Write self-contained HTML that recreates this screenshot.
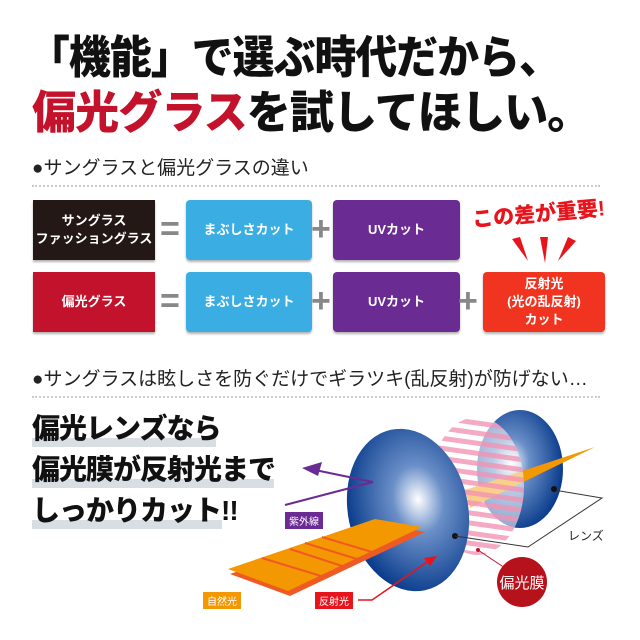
<!DOCTYPE html>
<html><head><meta charset="utf-8"><style>
body{margin:0;width:640px;height:640px;background:#fff;overflow:hidden;position:relative;font-family:"Liberation Sans","Noto Sans CJK JP",sans-serif}
.a{position:absolute;white-space:nowrap}
.t{font-weight:900;font-size:45px;letter-spacing:-1px;color:#111;line-height:1;transform-origin:0 0}
.h{font-size:19px;color:#222}
.dot{position:absolute;left:32px;width:568px;border-top:2px dotted #ccc}
.b{position:absolute;height:60px;border-radius:4px;color:#fff;font-size:13px;font-weight:bold;display:flex;align-items:center;justify-content:center;text-align:center;line-height:1.4;box-shadow:0 2px 2px rgba(0,0,0,.3)}
.op{position:absolute;font-size:34px;color:#888;font-weight:bold;line-height:1}
.big{font-size:28px;font-weight:900;color:#111;line-height:1;letter-spacing:-1px}
.hl{position:absolute;left:32px;height:9px;background:#d8dee4}
.lb{position:absolute;color:#fff;font-size:10px;padding:1px 4px}
</style></head><body>
<div class="a t" style="left:28px;top:35px;transform:scaleX(0.93)">「機能」で選ぶ時代だから、</div>
<div class="a t" style="left:32px;top:90px;transform:scaleX(0.98)"><span style="color:#c3122b">偏光グラス</span>を試してほしい。</div>
<div class="a h" style="left:32px;top:153px">●サングラスと偏光グラスの違い</div>
<div class="dot" style="top:185px"></div>

<div class="b" style="left:33px;top:200px;width:122px;background:#231815;border-radius:0">サングラス<br>ファッショングラス</div>
<div class="op" style="left:160px;top:212px">=</div>
<div class="b" style="left:186px;top:200px;width:126px;background:#3aade3">まぶしさカット</div>
<div class="op" style="left:311px;top:212px">+</div>
<div class="b" style="left:333px;top:200px;width:127px;background:#6a2b92">UVカット</div>
<div class="a" style="left:472px;top:198px;font-size:21px;font-weight:900;color:#e8141c;transform:rotate(-5deg)">この差が重要!</div>
<svg class="a" style="left:510px;top:235px" width="70" height="32"><polygon points="2,4 10,2 18,26" fill="#e8141c"/><polygon points="30,2 38,2 35,28" fill="#e8141c"/><polygon points="58,2 66,6 48,26" fill="#e8141c"/></svg>

<div class="b" style="left:33px;top:272px;width:122px;background:#c3122b;border-radius:0">偏光グラス</div>
<div class="op" style="left:160px;top:284px">=</div>
<div class="b" style="left:186px;top:272px;width:126px;background:#3aade3">まぶしさカット</div>
<div class="op" style="left:311px;top:284px">+</div>
<div class="b" style="left:333px;top:272px;width:127px;background:#6a2b92">UVカット</div>
<div class="op" style="left:458px;top:284px">+</div>
<div class="b" style="left:483px;top:272px;width:122px;background:#f0341f">反射光<br>(光の乱反射)<br>カット</div>

<div class="a h" style="left:32px;top:364px">●サングラスは眩しさを防ぐだけでギラツキ(乱反射)が防げない…</div>
<div class="dot" style="top:396px"></div>

<div class="hl" style="top:438px;width:184px"></div>
<div class="hl" style="top:479px;width:242px"></div>
<div class="hl" style="top:520px;width:190px"></div>
<div class="a big" style="left:32px;top:415px">偏光レンズなら</div>
<div class="a big" style="left:32px;top:456px">偏光膜が反射光まで</div>
<div class="a big" style="left:32px;top:497px">しっかりカット!!</div>

<svg class="a" style="left:0;top:0" width="640" height="640">
<defs>
<radialGradient id="g1" cx="0.6" cy="0.45" r="0.6"><stop offset="0" stop-color="#fff"/><stop offset="0.35" stop-color="#6a8fc8"/><stop offset="1" stop-color="#0a3c8c"/></radialGradient>
<radialGradient id="g2" cx="0.4" cy="0.45" r="0.6"><stop offset="0" stop-color="#fff"/><stop offset="0.35" stop-color="#6a8fc8"/><stop offset="1" stop-color="#0a3c8c"/></radialGradient>
<pattern id="st" width="10" height="10" patternUnits="userSpaceOnUse" patternTransform="rotate(8)"><rect width="10" height="5" fill="#f4a0bd"/><rect y="5" width="10" height="5" fill="#fff" fill-opacity="0.6"/></pattern>
</defs>
<ellipse cx="520" cy="469" rx="43" ry="59" fill="url(#g2)"/>
<polygon points="465,490 595,447 470,508" fill="#f39800"/>
<ellipse cx="477" cy="486" rx="47" ry="69" fill="url(#st)" opacity="0.9"/>
<ellipse cx="408" cy="510" rx="60" ry="82" transform="rotate(-12 408 510)" fill="url(#g1)"/>
<polyline points="285,505 373,482" stroke="#6a2b92" stroke-width="2" fill="none"/>
<line x1="373" y1="482" x2="315" y2="470" stroke="#6a2b92" stroke-width="2"/>
<polygon points="302,468 322,462 318,476" fill="#6a2b92"/>
<g fill="#ef5a24"><polygon points="230,574 378,524 425,532 290,596"/></g>
<g fill="#f39800"><polygon points="228,569 375,519 422,527 288,591"/></g>
<g stroke="#ef5a24" stroke-width="2"><line x1="262" y1="558" x2="321" y2="576"/><line x1="290" y1="549" x2="342" y2="566"/><line x1="305" y1="543" x2="357" y2="559"/><line x1="322" y1="537" x2="372" y2="552"/></g>
<polyline points="358,600 372,600 430,560" stroke="#e8141c" stroke-width="1.5" fill="none"/>
<polygon points="437,556 424,558 430,566" fill="#e8141c"/>
<circle cx="455" cy="536" r="3" fill="#111"/>
<polyline points="455,536 528,547 602,498 554,490" stroke="#333" stroke-width="1" fill="none"/>
<circle cx="554" cy="489" r="3" fill="#111"/>
<circle cx="478" cy="550" r="2" fill="#c3122b"/>
<line x1="478" y1="550" x2="505" y2="568" stroke="#c3122b"/>
<circle cx="522" cy="582" r="25" fill="#b5121b"/>
<text x="522" y="588" fill="#fff" font-size="15" text-anchor="middle" font-family="Liberation Sans,Noto Sans CJK JP,sans-serif">偏光膜</text>
<text x="568" y="540" fill="#222" font-size="12" font-family="Liberation Sans,Noto Sans CJK JP,sans-serif">レンズ</text>
</svg>
<div class="lb" style="left:285px;top:512px;background:#6a2b92">紫外線</div>
<div class="lb" style="left:203px;top:592px;background:#f39800">自然光</div>
<div class="lb" style="left:315px;top:592px;background:#e8141c">反射光</div>
</body></html>
